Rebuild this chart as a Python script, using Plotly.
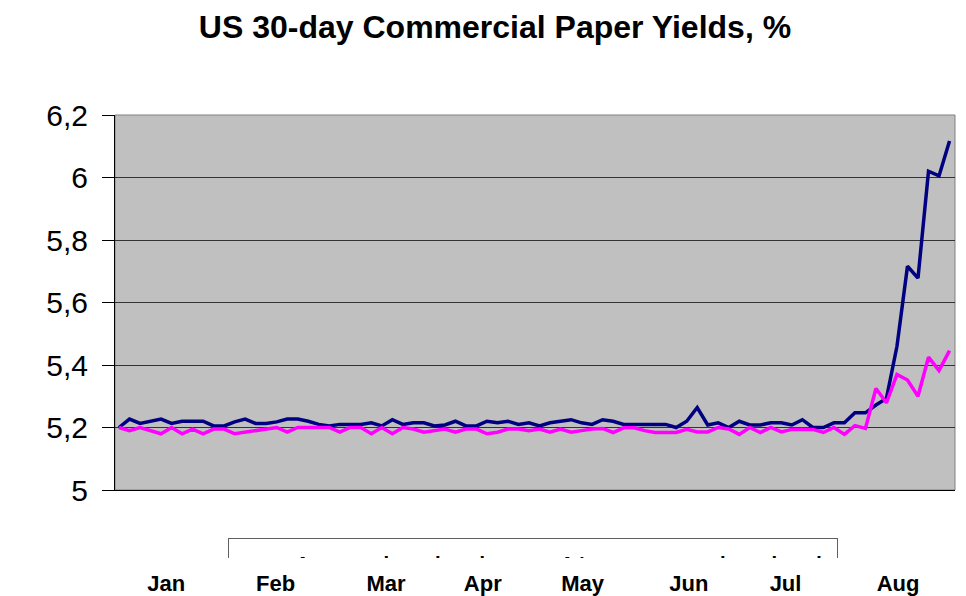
import plotly.graph_objects as go

# ---- data ----
idx = list(range(80))
asset_backed = [
    5.200, 5.227, 5.213, 5.220, 5.227, 5.213, 5.220, 5.220, 5.220, 5.205,
    5.205, 5.218, 5.227, 5.213, 5.213, 5.218, 5.227, 5.227, 5.220, 5.210,
    5.205, 5.210, 5.210, 5.210, 5.215, 5.205, 5.225, 5.210, 5.215, 5.215,
    5.205, 5.208, 5.220, 5.205, 5.205, 5.220, 5.215, 5.220, 5.210, 5.215,
    5.205, 5.215, 5.220, 5.225, 5.215, 5.210, 5.225, 5.220, 5.210, 5.210,
    5.210, 5.210, 5.210, 5.200, 5.220, 5.264, 5.208, 5.215, 5.200, 5.220,
    5.208, 5.208, 5.215, 5.215, 5.208, 5.225, 5.200, 5.200, 5.215, 5.215,
    5.247, 5.247, 5.272, 5.293, 5.460, 5.716, 5.678, 6.020, 6.005, 6.117,
]
non_asset_backed = [
    5.200, 5.190, 5.200, 5.190, 5.180, 5.200, 5.180, 5.195, 5.180, 5.195,
    5.195, 5.180, 5.185, 5.190, 5.195, 5.200, 5.185, 5.200, 5.200, 5.200,
    5.200, 5.185, 5.200, 5.200, 5.180, 5.200, 5.180, 5.200, 5.195, 5.185,
    5.190, 5.195, 5.185, 5.195, 5.195, 5.180, 5.185, 5.195, 5.195, 5.190,
    5.195, 5.185, 5.195, 5.185, 5.190, 5.195, 5.197, 5.184, 5.199, 5.199,
    5.190, 5.184, 5.184, 5.184, 5.194, 5.186, 5.186, 5.200, 5.195, 5.178,
    5.200, 5.184, 5.200, 5.186, 5.194, 5.194, 5.194, 5.184, 5.200, 5.178,
    5.206, 5.197, 5.325, 5.279, 5.370, 5.352, 5.300, 5.425, 5.382, 5.446,
]
series_names = ["Asset-backed", "Non-asset-backed"]
months = ["Jan", "Feb", "Mar", "Apr", "May", "Jun", "Jul", "Aug"]
month_pos = [4.5, 14.9, 25.4, 34.6, 44.1, 54.2, 63.4, 74.1]
y_ticks = [5.0, 5.2, 5.4, 5.6, 5.8, 6.0, 6.2]

NB = "\u00a0"
fig = go.Figure()
fig.add_trace(go.Scatter(x=idx, y=asset_backed, mode="lines", name=series_names[0] + NB,
                         line=dict(color="#000080", width=3.5)))
fig.add_trace(go.Scatter(x=idx, y=non_asset_backed, mode="lines", name=series_names[1],
                         line=dict(color="#FF00FF", width=3.5)))

L, R, T, B = 115, 955, 115, 490.5
W, H = 966, 596


def px_x(v):
    return (v - L) / (R - L)


def px_y(v):
    return (B - v) / (B - T)


fig.update_layout(
    width=W, height=H,
    margin=dict(l=L, r=W - R, t=T, b=H - B, autoexpand=False),
    paper_bgcolor="white", plot_bgcolor="#C0C0C0",
    separators=", ",
    font=dict(family="Arial", color="black"),
    title=dict(text="<b>US 30-day Commercial Paper Yields, %</b>",
               x=495 / W, xanchor="center", xref="container",
               y=1 - 27 / H, yanchor="middle", yref="container",
               font=dict(family="Arial", size=32, color="black")),
    showlegend=True,
    legend=dict(orientation="h", x=px_x(228), xanchor="left",
                y=px_y(539), yanchor="top",
                bgcolor="white", bordercolor="#606060", borderwidth=1,
                font=dict(family="Arial", size=32, color="black"),
                indentation=23, maxheight=30),
    xaxis=dict(range=[-0.38, 79.52], tickvals=month_pos, ticktext=months,
               ticks="", showgrid=False, zeroline=False,
               showline=True, linecolor="black", linewidth=1,
               tickfont=dict(family="Arial", size=22, color="black", weight="bold"),
               ticklabelstandoff=74, fixedrange=True),
    yaxis=dict(range=[5, 6.2], tickvals=y_ticks, tickformat="~g",
               ticks="outside", ticklen=12, tickcolor="black", tickwidth=1,
               showline=True, linecolor="black", linewidth=1,
               showgrid=True, gridcolor="#333333", gridwidth=1, zeroline=False,
               tickfont=dict(family="Arial", size=30, color="black"),
               ticklabelstandoff=8, fixedrange=True),
    shapes=[dict(type="rect", xref="paper", yref="paper", x0=0, x1=1, y0=0, y1=1,
                 line=dict(color="#808080", width=1), layer="below")],
    annotations=[dict(text=" ", xref="paper", yref="paper",
                      x=px_x(533), y=px_y(566), xanchor="center", yanchor="middle",
                      width=660, height=14, showarrow=False, bgcolor="white",
                      borderwidth=0, borderpad=0)],
)

post = (
    "document.body.style.margin='0';"
    "document.querySelectorAll('.scrollbar').forEach(function(e){e.style.display='none';});"
)
fig.write_html("out.html", post_script=post, config={"displayModeBar": False})
